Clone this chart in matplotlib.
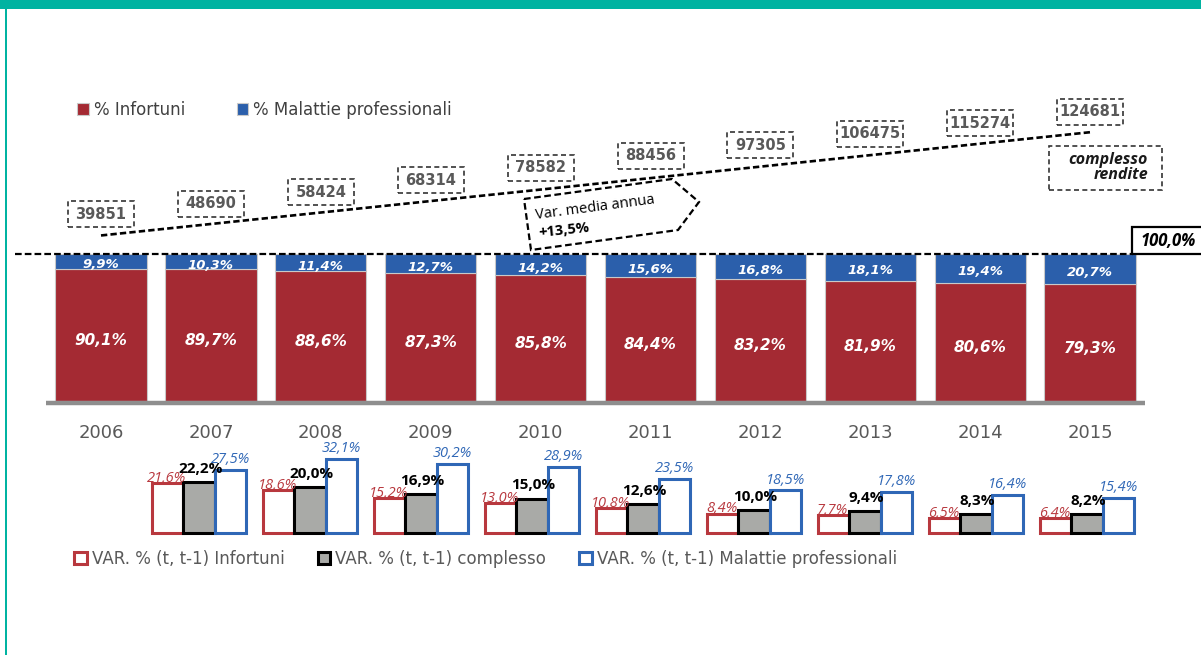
"""Rendite 2006-2015: composizione per gestione e variazioni annue."""

import matplotlib

matplotlib.use("Agg")

import matplotlib.pyplot as plt
import numpy as np
from matplotlib.patches import Polygon, Rectangle
from matplotlib.transforms import ScaledTranslation

W, H, DPI = 1201, 655, 100

anni = ["2006", "2007", "2008", "2009", "2010", "2011", "2012", "2013", "2014", "2015"]
perc_infortuni = [90.1, 89.7, 88.6, 87.3, 85.8, 84.4, 83.2, 81.9, 80.6, 79.3]
perc_malattie = [9.9, 10.3, 11.4, 12.7, 14.2, 15.6, 16.8, 18.1, 19.4, 20.7]
rendite_complesso = [39851, 48690, 58424, 68314, 78582, 88456, 97305, 106475, 115274, 124681]

# variazioni % (t, t-1), dal 2007 al 2015
var_infortuni = [21.6, 18.6, 15.2, 13.0, 10.8, 8.4, 7.7, 6.5, 6.4]
var_complesso = [22.2, 20.0, 16.9, 15.0, 12.6, 10.0, 9.4, 8.3, 8.2]
var_malattie = [27.5, 32.1, 30.2, 28.9, 23.5, 18.5, 17.8, 16.4, 15.4]

ROSSO = "#A42A33"
BLU = "#2B5FAB"
ROSSO_BORDO = "#B8383E"
BLU_BORDO = "#2F67B6"
GRIGIO_BARRA = "#A9AAA7"
GRIGIO_TESTO = "#595959"
TEAL = "#00B3A1"
LARGO = ["DejaVu Sans"]

plt.rcParams["font.family"] = ["Open Sans", "DejaVu Sans"]


def pct(v):
    return f"{v:.1f}".replace(".", ",") + "%"


def fig_xy(x_px, y_px):
    """Pixel of the 1201x655 canvas -> figure fraction."""
    return x_px / W, 1 - y_px / H


def overlay_axes(fig, x0, dx, y0, dy):
    """Full-figure axes: x=0 at pixel column x0 (dx px per step),
    y=0 at pixel row y0 (dy px per unit)."""
    ax = fig.add_axes([0, 0, 1, 1])
    ax.set_xlim(-x0 / dx, (W - x0) / dx)
    ax.set_ylim((y0 - H) / dy, y0 / dy)
    ax.axis("off")
    return ax


def px_box(ax, x, y, w_px, h_px, **kw):
    """Rectangle of w_px x h_px pixels centred on a data point."""
    trans = ax.figure.dpi_scale_trans + ScaledTranslation(x, y, ax.transData)
    rect = Rectangle((-w_px / 2 / DPI, -h_px / 2 / DPI), w_px / DPI, h_px / DPI,
                     transform=trans, **kw)
    ax.add_patch(rect)
    return rect


fig = plt.figure(figsize=(W / DPI, H / DPI), dpi=DPI)

# cornice
fig.add_artist(Rectangle((0, 1 - 9 / H), 1, 9 / H, transform=fig.transFigure,
                         color=TEAL, lw=0))
fig.add_artist(Rectangle((5 / W, 0), 2 / W, 1, transform=fig.transFigure,
                         color=TEAL, lw=0))

# --- barre in pila: composizione % ---
x = np.arange(len(anni))
ax = overlay_axes(fig, 101, 109.9, 401, 1.47)
ax.bar(x, perc_infortuni, width=0.83, color=ROSSO, edgecolor="#C9C9C9",
       linewidth=0.8, label="% Infortuni")
ax.bar(x, perc_malattie, bottom=perc_infortuni, width=0.83, color=BLU,
       edgecolor="#C9C9C9", linewidth=0.8, label="% Malattie professionali")

for i, (inf, mal) in enumerate(zip(perc_infortuni, perc_malattie)):
    ax.text(i, inf / 2 - 4, pct(inf), ha="center", va="center", color="white",
            fontsize=11, fontweight="bold", fontstyle="italic", family=LARGO)
    ax.text(i, inf + mal / 2 - 2.5, pct(mal), ha="center", va="center",
            color="white", fontsize=9.5, fontweight="bold", fontstyle="italic",
            family=LARGO)
    ax.text(i, -21.5, anni[i], ha="center", va="center", color=GRIGIO_TESTO,
            fontsize=13, family=LARGO)

ax.hlines(-1.2, -0.5, 9.5, colors="#8E8E8E", linewidth=3.2, zorder=3)

totale = np.add(perc_infortuni, perc_malattie)
ax.hlines(totale.max(), (15 - 101) / 109.9, (1133 - 101) / 109.9, colors="black",
          linestyles=(0, (3, 1.4)), linewidth=1.6, zorder=3)
fig.add_artist(Rectangle(fig_xy(1132, 254), 80 / W, 27 / H,
                         transform=fig.transFigure, fill=False,
                         edgecolor="black", lw=1.6))
fig.text(*fig_xy(1168, 241), pct(totale.max()), ha="center", va="center",
         fontsize=12, fontweight="bold", fontstyle="italic", color="black")

ax.legend(loc="center left", bbox_to_anchor=fig_xy(77, 110),
          bbox_transform=fig.transFigure, ncol=2, frameon=False,
          prop={"family": LARGO, "size": 12},
          handlelength=0.7, handleheight=0.7, handletextpad=0.3,
          columnspacing=3.1, borderpad=0, borderaxespad=0, labelcolor="#404040")

# --- complesso rendite: etichette tratteggiate e tendenza ---
ax_v = overlay_axes(fig, 101, 109.9, 262.65, 0.0012083)
for i, v in enumerate(rendite_complesso):
    px_box(ax_v, i, v, 66, 26, facecolor="white", edgecolor="#333333",
           linestyle=(0, (3, 2)), lw=1.2, zorder=4)
    ax_v.text(i, v, str(v), ha="center", va="center", fontsize=10.5,
              fontweight="bold", color=GRIGIO_TESTO, zorder=5, family=LARGO)

coef = np.polyfit(x, rendite_complesso, 1)
xt = np.array([x[0], x[-1]])
shift = ScaledTranslation(0, -21 / DPI, fig.dpi_scale_trans)
ax_v.plot(xt, np.polyval(coef, xt), color="black", lw=1.9,
          linestyle=(0, (2.4, 1.2)), transform=ax_v.transData + shift, zorder=3)

freccia = [fig_xy(524, 199), fig_xy(672, 179), fig_xy(699, 202),
           fig_xy(678, 230), fig_xy(531, 250)]
ax_v.add_patch(Polygon(freccia, closed=True, transform=fig.transFigure,
                       facecolor="white", edgecolor="black", lw=1.6,
                       linestyle=(0, (3, 1.6)), zorder=2))
cagr = (rendite_complesso[-1] / rendite_complesso[0]) ** (1 / (len(anni) - 1)) - 1
fig.text(*fig_xy(595, 208), "Var. media annua", rotation=7.5,
         rotation_mode="anchor", ha="center", va="center", fontsize=10.5,
         color="black")
fig.text(*fig_xy(564, 230), "+" + pct(cagr * 100), rotation=6,
         rotation_mode="anchor", ha="center", va="center", fontsize=10.5,
         fontweight="bold", color="black")

fig.add_artist(Rectangle(fig_xy(1049, 190), 113 / W, 44 / H,
                         transform=fig.transFigure, fill=False,
                         edgecolor="#333333", lw=1.2, linestyle=(0, (3, 2))))
fig.text(*fig_xy(1148, 159.5), "complesso", ha="right", va="center",
         fontsize=11.5, fontweight="bold", fontstyle="italic", color="#1A1A1A")
fig.text(*fig_xy(1148, 175), "rendite", ha="right", va="center",
         fontsize=11.5, fontweight="bold", fontstyle="italic", color="#1A1A1A")

# --- variazioni % annue ---
xb = np.arange(len(var_complesso))
bw = 0.28
ax_b = overlay_axes(fig, 199, 111, 533, 2.3)
ax_b.bar(xb - bw, var_infortuni, bw, facecolor="white", edgecolor=ROSSO_BORDO,
         linewidth=2.2, label="VAR. % (t, t-1) Infortuni")
ax_b.bar(xb, var_complesso, bw, facecolor=GRIGIO_BARRA, edgecolor="black",
         linewidth=2.2, label="VAR. % (t, t-1) complesso")
ax_b.bar(xb + bw, var_malattie, bw, facecolor="white", edgecolor=BLU_BORDO,
         linewidth=2.2, label="VAR. % (t, t-1) Malattie professionali")

for i in xb:
    ax_b.annotate(pct(var_infortuni[i]), (i - bw, var_infortuni[i]),
                  xytext=(-1, 1), textcoords="offset points", ha="center",
                  va="baseline", fontsize=10.5, fontstyle="italic",
                  color=ROSSO_BORDO)
    ax_b.annotate(pct(var_complesso[i]), (i, var_complesso[i]),
                  xytext=(1, 6.5), textcoords="offset points", ha="center",
                  va="baseline", fontsize=11, fontweight="bold", color="black")
    ax_b.annotate(pct(var_malattie[i]), (i + bw, var_malattie[i]),
                  xytext=(0, 5), textcoords="offset points", ha="center",
                  va="baseline", fontsize=10.5, fontstyle="italic",
                  color=BLU_BORDO)

ax_b.legend(loc="center left", bbox_to_anchor=fig_xy(74, 559),
            bbox_transform=fig.transFigure, ncol=3, frameon=False,
            prop={"family": LARGO, "size": 12},
            handlelength=0.75, handleheight=0.75, handletextpad=0.3,
            columnspacing=2.0, borderpad=0, borderaxespad=0,
            labelcolor=GRIGIO_TESTO)

fig.savefig("out.png", dpi=DPI)
